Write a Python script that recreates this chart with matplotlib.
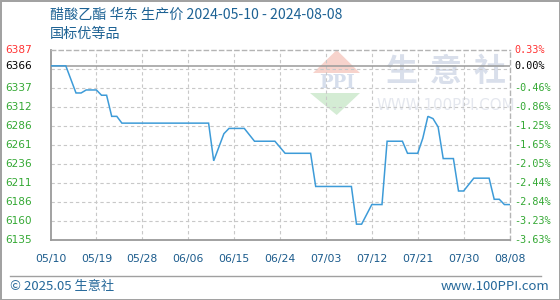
import datetime as dt

import matplotlib
matplotlib.use("Agg")
import matplotlib.pyplot as plt
from matplotlib.lines import Line2D
from matplotlib.patches import Polygon, Rectangle
import numpy as np

plt.rcParams['font.family'] = ['Noto Sans CJK SC', 'DejaVu Sans']

# ---- data -------------------------------------------------------------
price_dates = [
    "2024-05-10", "2024-05-13", "2024-05-15", "2024-05-16", "2024-05-17",
    "2024-05-19", "2024-05-20", "2024-05-21", "2024-05-22", "2024-05-23",
    "2024-05-24", "2024-06-10", "2024-06-11", "2024-06-13", "2024-06-14",
    "2024-06-17", "2024-06-19", "2024-06-23", "2024-06-25", "2024-06-30",
    "2024-07-01", "2024-07-08", "2024-07-09", "2024-07-10", "2024-07-12",
    "2024-07-14", "2024-07-15", "2024-07-18", "2024-07-19", "2024-07-21",
    "2024-07-22", "2024-07-23", "2024-07-24", "2024-07-25", "2024-07-26",
    "2024-07-28", "2024-07-29", "2024-07-30", "2024-08-01", "2024-08-04",
    "2024-08-05", "2024-08-06", "2024-08-07", "2024-08-08",
]
prices = [
    6366, 6366, 6330, 6330, 6334,
    6334, 6327, 6327, 6299, 6299,
    6290, 6290, 6240, 6276, 6283,
    6283, 6266, 6266, 6250, 6250,
    6206, 6206, 6156, 6156, 6182,
    6182, 6266, 6266, 6250, 6250,
    6270, 6299, 6296, 6285, 6243,
    6243, 6200, 6200, 6217, 6217,
    6189, 6189, 6182, 6182,
]

base_price = 6366
y_low, y_high = 6135, 6387
left_grid_labels = ["6387", "", "6337", "6312", "6286", "6261",
                    "6236", "6211", "6186", "6160", "6135"]
right_grid_labels = ["0.33%", "", "-0.46%", "-0.86%", "-1.25%", "-1.65%",
                     "-2.05%", "-2.44%", "-2.84%", "-3.23%", "-3.63%"]
base_left_label = "6366"
base_right_label = "0.00%"

x_start, x_end = "2024-05-10", "2024-08-08"
tick_step_days = 9

title_line1 = "醋酸乙酯 华东 生产价 2024-05-10 - 2024-08-08"
title_line2 = "国标优等品"
footer_left = "© 2025.05 生意社"
footer_right = "www.100PPI.com"

# ---- layout helpers -----------------------------------------------------
W, H = 560, 300
fig = plt.figure(figsize=(W / 100, H / 100), dpi=100)


def fx(px):
    return px / W


def fy(py):
    return 1 - py / H


ax_left, ax_top, ax_right, ax_bottom = 50.5, 50, 509.5, 240
ax = fig.add_axes([fx(ax_left), fy(ax_bottom),
                   fx(ax_right - ax_left), (ax_bottom - ax_top) / H])

to_date = lambda s: dt.datetime.strptime(s, "%Y-%m-%d")
xd = [to_date(d) for d in price_dates]
x0, x1 = to_date(x_start), to_date(x_end)

# ---- price line -----------------------------------------------------------
ax.plot(xd, prices, color="#3d9bd8", lw=1.1, zorder=4, solid_joinstyle="miter")
ax.axhline(base_price, color="#9a9a9a", lw=1.1, zorder=3)

ax.set_xlim(x0, x1)
ax.set_ylim(y_low, y_high)

grid_vals = np.linspace(y_high, y_low, len(left_grid_labels))
tick_dates = [x0 + dt.timedelta(days=k) for k in range(0, (x1 - x0).days + 1, tick_step_days)]

grid_kw = dict(color="#c8c8c8", lw=0.8, ls=(0, (3, 2.5)), zorder=1)
for gv in grid_vals[1:-1]:
    ax.axhline(gv, **grid_kw)
for td in tick_dates[1:-1]:
    ax.axvline(td, **grid_kw)

ax.set_xticks([])
ax.set_yticks([])
for side in ("left", "bottom"):
    ax.spines[side].set_color("#9a9a9a")
    ax.spines[side].set_linewidth(1.3)
for side in ("top", "right"):
    ax.spines[side].set_color("#b4b4b4")
    ax.spines[side].set_linewidth(1.0)
    ax.spines[side].set_linestyle((0, (3, 2.5)))

# ---- axis labels ------------------------------------------------------------
ytr = ax.get_yaxis_transform()
lx = (5 - ax_left) / (ax_right - ax_left)
rx = (514 - ax_left) / (ax_right - ax_left)
green, red = "#33a833", "#ff3333"
for i, (gv, ll, rl) in enumerate(zip(grid_vals, left_grid_labels, right_grid_labels)):
    if not ll:
        continue
    col = red if i == 0 else green
    ax.text(lx, gv, ll, transform=ytr, ha="left", va="center", fontsize=7.6,
            color=col, family="DejaVu Sans", clip_on=False)
    ax.text(rx, gv, rl, transform=ytr, ha="left", va="center", fontsize=7.3,
            color=col, family="DejaVu Sans Mono", clip_on=False)
ax.text(lx, base_price, base_left_label, transform=ytr, ha="left", va="center",
        fontsize=7.6, color="black", family="DejaVu Sans", clip_on=False)
ax.text(rx, base_price, base_right_label, transform=ytr, ha="left", va="center",
        fontsize=7.3, color="black", family="DejaVu Sans Mono", clip_on=False)

xtr = ax.get_xaxis_transform()
xl_y = (ax_bottom - 259) / (ax_bottom - ax_top)
for td in tick_dates:
    ax.text(td, xl_y, td.strftime("%m/%d"), transform=xtr, ha="center", va="center",
            fontsize=7.8, color="#1b5b8c", family="DejaVu Sans", clip_on=False)

# ---- watermark --------------------------------------------------------------
ftr = fig.transFigure
red_tri = Polygon([(fx(336.7), fy(50)), (fx(360), fy(73)), (fx(313), fy(73))],
                  closed=True, transform=ftr, facecolor="#f7d3cc", edgecolor="none", zorder=0.5)
green_tri = Polygon([(fx(310), fy(93)), (fx(360), fy(93)), (fx(336.7), fy(115))],
                    closed=True, transform=ftr, facecolor="#d4ecd4", edgecolor="none", zorder=0.5)
ax.add_patch(red_tri)
ax.add_patch(green_tri)
ax.text(fx(336.5), fy(83), "PPI", transform=ftr, ha="center", va="center", fontsize=13,
        fontweight="bold", family="DejaVu Serif", color="#d6deec", zorder=0.6)
for cx, ch in zip([401.5, 445.5, 490], "生意社"):
    ax.text(fx(cx), fy(72), ch, transform=ftr, ha="center", va="center", fontsize=23,
            fontweight="bold", color="#d9dfeb", zorder=0.6)
ax.text(fx(446), fy(105), "WWW.100PPI.COM", transform=ftr, ha="center", va="center",
        fontsize=10.8, color="#e4e7ee", family="DejaVu Sans", zorder=0.6)

# ---- titles and footer -------------------------------------------------------
title_color = "#1d6294"
fig.text(fx(50), fy(15), title_line1, ha="left", va="center", fontsize=10.15, color=title_color)
fig.text(fx(50), fy(34), title_line2, ha="left", va="center", fontsize=10.15, color=title_color)

fig.add_artist(Line2D([fx(10), fx(541)], [fy(276), fy(276)], color="#a0a0a0", lw=1.0))
fig.text(fx(10), fy(286.5), footer_left, ha="left", va="center", fontsize=9.5, color="#25689a")
fig.text(fx(549), fy(286.5), footer_right, ha="right", va="center", fontsize=9.5, color="#25689a")

fig.add_artist(Rectangle((0.5 / W, 0.5 / H), 1 - 1.0 / W, 1 - 1.0 / H, transform=ftr,
                         fill=False, edgecolor="#a0a0a0", lw=1.4))

fig.savefig("out.png", dpi=100)
